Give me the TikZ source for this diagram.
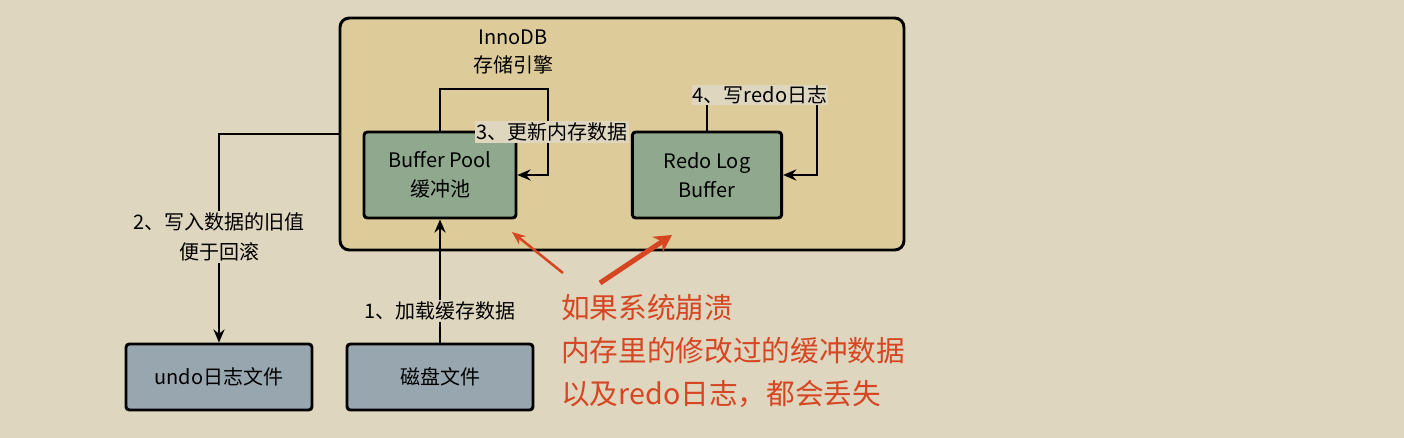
\documentclass[tikz,border=0pt]{standalone}
\usepackage{fontspec}
\setmainfont{Noto Sans CJK SC}
\usetikzlibrary{arrows.meta}
\definecolor{paper}{RGB}{222,214,190}
\definecolor{enginefill}{RGB}{221,204,153}
\definecolor{poolfill}{RGB}{143,168,142}
\definecolor{filefill}{RGB}{152,166,175}
\definecolor{crash}{RGB}{215,70,35}
\begin{document}
\begin{tikzpicture}[x=0.75pt, y=-0.75pt,
    box/.style={draw=black, line width=2.2pt, rounded corners=2.5pt, align=center,
      inner sep=0pt, font=\fontsize{15pt}{22pt}\selectfont},
    lbl/.style={fill=paper, inner sep=1pt, align=center, font=\fontsize{15pt}{23pt}\selectfont},
    arr/.style={line width=1.1pt, -{Stealth[length=10pt, width=8.5pt, inset=3.5pt]}}]
  % page
  \fill[paper] (0, 0) rectangle (1404, 438);
  \useasboundingbox (0, 0) rectangle (1404, 438);
  % engine
  \node[box, fill=enginefill, rounded corners=7pt, minimum width=423pt, minimum height=174pt] (engine) at (622, 134) {};
  \node[align=center, font=\fontsize{15pt}{21pt}\selectfont] (innodb) at (513, 52) {InnoDB\\存储引擎};
  % boxes
  \node[box, fill=poolfill, minimum width=114pt, minimum height=64.5pt] (bp) at (440, 175) {Buffer Pool\\缓冲池};
  \node[box, fill=poolfill, minimum width=112pt, minimum height=64.5pt] (redo) at (707, 175) {Redo Log\\Buffer};
  \node[box, fill=filefill, minimum width=139.5pt, minimum height=49.5pt] (undo) at (219, 377) {undo日志文件};
  \node[box, fill=filefill, minimum width=139.5pt, minimum height=49.5pt] (disk) at (440, 377) {磁盘文件};
  % lines
  \coordinate (c3) at (548, 89);
  \coordinate (c4) at (817, 97);
  \draw[arr] (disk.north) -- (bp.south);
  \draw[arr] (engine.west) -| (undo.north);
  \draw[arr] (bp.north) |- (c3) |- (bp.east);
  \draw[arr] (redo.north) |- (c4) |- (redo.east);
  % labels
  \node[lbl] (l1) at (440, 311) {1、加载缓存数据};
  \node[lbl] (l2) at (219, 237) {2、写入数据的旧值\\便于回滚};
  \node[lbl] (l3) at (552, 132) {3、更新内存数据};
  \node[lbl] (l4) at (760, 95) {4、写redo日志};
  % crash note
  \coordinate (r1s) at (563, 273);
  \coordinate (r1e) at (512, 232);
  \coordinate (r2s) at (600, 283);
  \coordinate (r2e) at (672, 235);
  \draw[crash, line width=1.9pt, -{Stealth[length=10pt, width=8pt]}] (r1s) -- (r1e);
  \draw[crash, line width=3.8pt, -{Stealth[length=13pt, width=14pt]}] (r2s) -- (r2e);
  \node[crash, anchor=west, inner sep=0pt, align=left, font=\fontsize{21.5pt}{32pt}\selectfont] (note) at (561, 351)
    {如果系统崩溃\\内存里的修改过的缓冲数据\\以及redo日志，都会丢失};
\end{tikzpicture}
\end{document}
